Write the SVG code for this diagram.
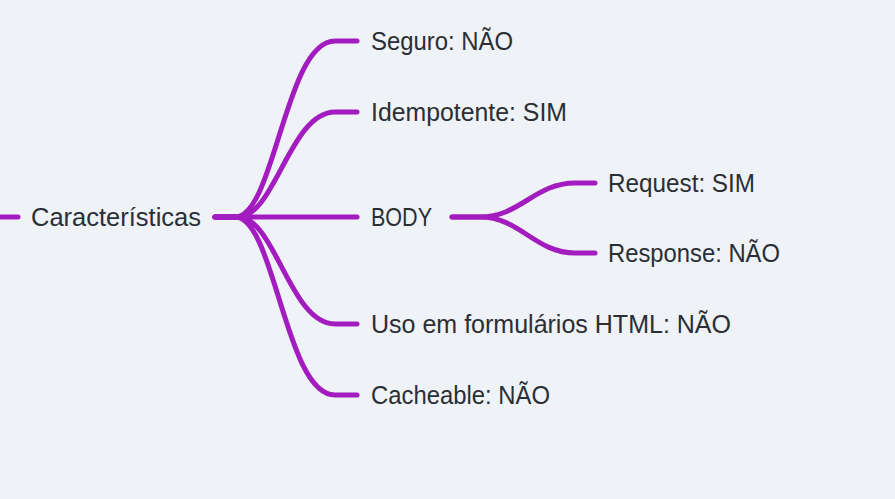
<svg xmlns="http://www.w3.org/2000/svg" width="895" height="499" viewBox="0 0 895 499">
<style>
.bg{fill:#eff2f6}
.l{fill:none;stroke:#a21cbf;stroke-width:5;stroke-linecap:round;stroke-linejoin:round}
.t{font-family:"Liberation Sans",Arial,sans-serif;font-size:25px;fill:#2a2f35;lengthAdjust:spacingAndGlyphs}
</style>
<rect class="bg" x="0" y="0" width="895" height="499"/>
<g id="connectors">
<path class="l" d="M-5,217 L18,217"/>
<path class="l" d="M215,217 L235,217 C275,217 285,41 335,41 L357,41"/>
<path class="l" d="M215,217 L238,217 C275,217 290,112 335,112 L357,112"/>
<path class="l" d="M215,217 L357,217"/>
<path class="l" d="M215,217 L238,217 C275,217 290,324 335,324 L357,324"/>
<path class="l" d="M215,217 L235,217 C275,217 285,395 335,395 L357,395"/>
<path class="l" d="M452,217 L480,217 C520,217 535,183 575,183 L595,183"/>
<path class="l" d="M452,217 L480,217 C520,217 535,253 575,253 L595,253"/>
</g>
<g id="caracteristicas"><text class="t" x="31" y="226" textLength="170" lengthAdjust="spacingAndGlyphs">Características</text></g>
<g id="seguro"><text class="t" x="371" y="50" textLength="142" lengthAdjust="spacingAndGlyphs">Seguro: NÃO</text></g>
<g id="idempotente"><text class="t" x="371" y="121" textLength="196" lengthAdjust="spacingAndGlyphs">Idempotente: SIM</text></g>
<g id="body"><text class="t" x="371" y="226" textLength="61" lengthAdjust="spacingAndGlyphs">BODY</text></g>
<g id="request"><text class="t" x="608" y="192" textLength="147" lengthAdjust="spacingAndGlyphs">Request: SIM</text></g>
<g id="response"><text class="t" x="608" y="262" textLength="172" lengthAdjust="spacingAndGlyphs">Response: NÃO</text></g>
<g id="uso"><text class="t" x="371" y="333" textLength="360" lengthAdjust="spacingAndGlyphs">Uso em formulários HTML: NÃO</text></g>
<g id="cacheable"><text class="t" x="371" y="404" textLength="179" lengthAdjust="spacingAndGlyphs">Cacheable: NÃO</text></g>
</svg>
